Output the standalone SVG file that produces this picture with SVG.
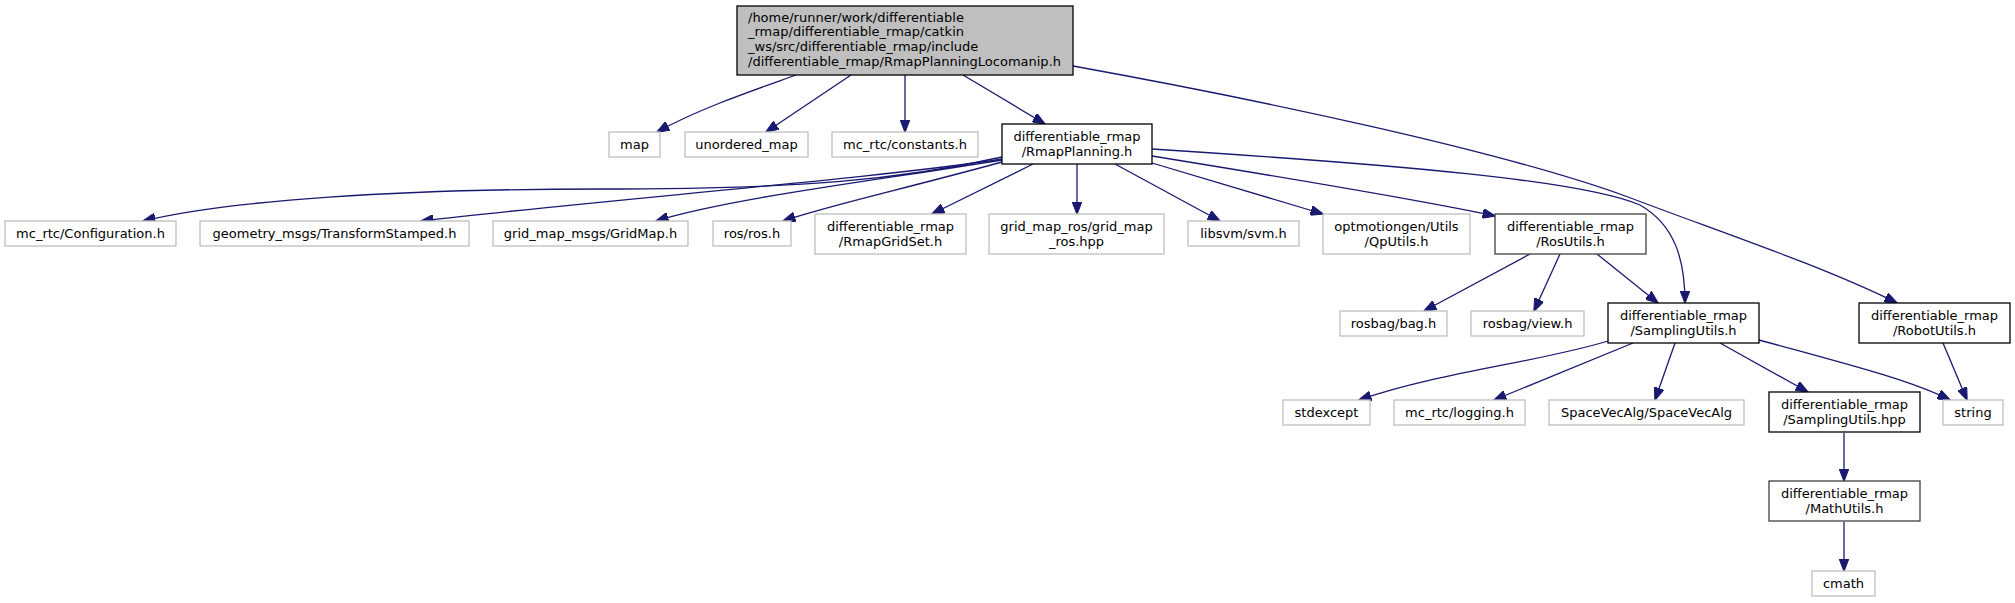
<svg xmlns="http://www.w3.org/2000/svg" width="2015" height="603" viewBox="0 0 2015 603">
<style>
text{font-family:"DejaVu Sans","Liberation Sans",sans-serif;font-size:13px;fill:#000}
.c{text-anchor:middle}
.g{fill:#fff;stroke:#bfbfbf;stroke-width:1.3}
.b{fill:#fff;stroke:#000;stroke-width:1.3}
.d{fill:#fff;stroke:#404040;stroke-width:1.3}
.r{fill:#bfbfbf;stroke:#000;stroke-width:1.3}
#edges path{fill:none;stroke:#191970;stroke-width:1.3;marker-end:url(#ah)}
</style>
<defs>
<marker id="ah" markerUnits="userSpaceOnUse" viewBox="0 0 13 10" markerWidth="13" markerHeight="10" refX="12.5" refY="5" orient="auto">
<path d="M0,0 L13,5 L0,10 z" fill="#191970" stroke="#191970" stroke-width="1"/>
</marker>
</defs>
<rect width="2015" height="603" fill="#fff"/>
<g id="edges">
<path d="M796,75 C760,88 700,108 657,132"/>
<path d="M851,75 L766,132"/>
<path d="M905,75 L905,132"/>
<path d="M963,75 L1045,124"/>
<path d="M1073,66 C1250,98 1500,150 1628,197 C1720,232 1820,265 1897,303"/>
<path d="M1002,157 C900,180 800,189 600,189 C400,189 230,200 143,221"/>
<path d="M1002,159 C880,178 600,200 421,221"/>
<path d="M1002,160 C880,180 730,198 656,221"/>
<path d="M1002,162 C900,190 830,205 783,221"/>
<path d="M1033,164 L932,214"/>
<path d="M1077,164 L1077,214"/>
<path d="M1115,164 L1220,221"/>
<path d="M1152,163 L1323,214"/>
<path d="M1152,156 C1300,180 1420,200 1495,216"/>
<path d="M1152,149 C1400,165 1580,180 1640,205 C1675,225 1685,260 1685,303"/>
<path d="M1530,254 L1424,311"/>
<path d="M1560,254 L1534,311"/>
<path d="M1597,254 L1658,303"/>
<path d="M1943,343 L1967,400"/>
<path d="M1608,341 C1540,362 1440,372 1359,400"/>
<path d="M1633,343 L1494,400"/>
<path d="M1675,343 L1655,400"/>
<path d="M1720,343 L1808,392"/>
<path d="M1759,340 C1850,365 1910,380 1950,400"/>
<path d="M1844,433 L1844,481"/>
<path d="M1844,522 L1844,571"/>
</g>
<g id="root"><rect class="r" x="737" y="6" width="336" height="69"/>
<text x="748" y="21.7">/home/runner/work/differentiable</text>
<text x="748" y="36.4">_rmap/differentiable_rmap/catkin</text>
<text x="748" y="51">_ws/src/differentiable_rmap/include</text>
<text x="748" y="65.7">/differentiable_rmap/RmapPlanningLocomanip.h</text></g>
<g id="map"><rect class="g" x="609" y="132" width="51" height="25"/><text class="c" x="634.5" y="148.5">map</text></g>
<g id="unordered_map"><rect class="g" x="685" y="132" width="123" height="25"/><text class="c" x="746.5" y="148.5">unordered_map</text></g>
<g id="constants"><rect class="g" x="832" y="132" width="146" height="25"/><text class="c" x="905" y="148.5">mc_rtc/constants.h</text></g>
<g id="RmapPlanning"><rect class="b" x="1002" y="124" width="150" height="40"/><text class="c" x="1077" y="141">differentiable_rmap</text><text class="c" x="1077" y="155.5">/RmapPlanning.h</text></g>
<g id="Configuration"><rect class="g" x="5" y="221" width="171" height="25"/><text class="c" x="90.5" y="237.5">mc_rtc/Configuration.h</text></g>
<g id="TransformStamped"><rect class="g" x="200" y="221" width="269" height="25"/><text class="c" x="334.5" y="237.5">geometry_msgs/TransformStamped.h</text></g>
<g id="GridMap"><rect class="g" x="493" y="221" width="195" height="25"/><text class="c" x="590.5" y="237.5">grid_map_msgs/GridMap.h</text></g>
<g id="ros"><rect class="g" x="713" y="221" width="78" height="25"/><text class="c" x="752" y="237.5">ros/ros.h</text></g>
<g id="RmapGridSet"><rect class="g" x="815" y="214" width="151" height="40"/><text class="c" x="890.5" y="231">differentiable_rmap</text><text class="c" x="890.5" y="245.5">/RmapGridSet.h</text></g>
<g id="grid_map_ros"><rect class="g" x="989" y="214" width="175" height="40"/><text class="c" x="1076.5" y="231">grid_map_ros/grid_map</text><text class="c" x="1076.5" y="245.5">_ros.hpp</text></g>
<g id="libsvm"><rect class="g" x="1188" y="221" width="111" height="25"/><text class="c" x="1243.5" y="237.5">libsvm/svm.h</text></g>
<g id="QpUtils"><rect class="g" x="1323" y="214" width="147" height="40"/><text class="c" x="1396.5" y="231">optmotiongen/Utils</text><text class="c" x="1396.5" y="245.5">/QpUtils.h</text></g>
<g id="RosUtils"><rect class="d" x="1495" y="214" width="151" height="40"/><text class="c" x="1570.5" y="231">differentiable_rmap</text><text class="c" x="1570.5" y="245.5">/RosUtils.h</text></g>
<g id="bag"><rect class="g" x="1340" y="311" width="107" height="25"/><text class="c" x="1393.5" y="327.5">rosbag/bag.h</text></g>
<g id="view"><rect class="g" x="1471" y="311" width="113" height="25"/><text class="c" x="1527.5" y="327.5">rosbag/view.h</text></g>
<g id="SamplingUtils_h"><rect class="b" x="1608" y="303" width="151" height="40"/><text class="c" x="1683.5" y="320">differentiable_rmap</text><text class="c" x="1683.5" y="334.5">/SamplingUtils.h</text></g>
<g id="RobotUtils"><rect class="b" x="1859" y="303" width="151" height="40"/><text class="c" x="1934.5" y="320">differentiable_rmap</text><text class="c" x="1934.5" y="334.5">/RobotUtils.h</text></g>
<g id="stdexcept"><rect class="g" x="1283" y="400" width="87" height="25"/><text class="c" x="1326.5" y="416.5">stdexcept</text></g>
<g id="logging"><rect class="g" x="1394" y="400" width="131" height="25"/><text class="c" x="1459.5" y="416.5">mc_rtc/logging.h</text></g>
<g id="SpaceVecAlg"><rect class="g" x="1549" y="400" width="195" height="25"/><text class="c" x="1646.5" y="416.5">SpaceVecAlg/SpaceVecAlg</text></g>
<g id="SamplingUtils_hpp"><rect class="b" x="1769" y="392" width="151" height="40"/><text class="c" x="1844.5" y="409">differentiable_rmap</text><text class="c" x="1844.5" y="423.5">/SamplingUtils.hpp</text></g>
<g id="string"><rect class="g" x="1943" y="400" width="60" height="25"/><text class="c" x="1973" y="416.5">string</text></g>
<g id="MathUtils"><rect class="d" x="1769" y="481" width="151" height="40"/><text class="c" x="1844.5" y="498">differentiable_rmap</text><text class="c" x="1844.5" y="512.5">/MathUtils.h</text></g>
<g id="cmath"><rect class="g" x="1812" y="571" width="63" height="25"/><text class="c" x="1843.5" y="587.5">cmath</text></g>
</svg>
